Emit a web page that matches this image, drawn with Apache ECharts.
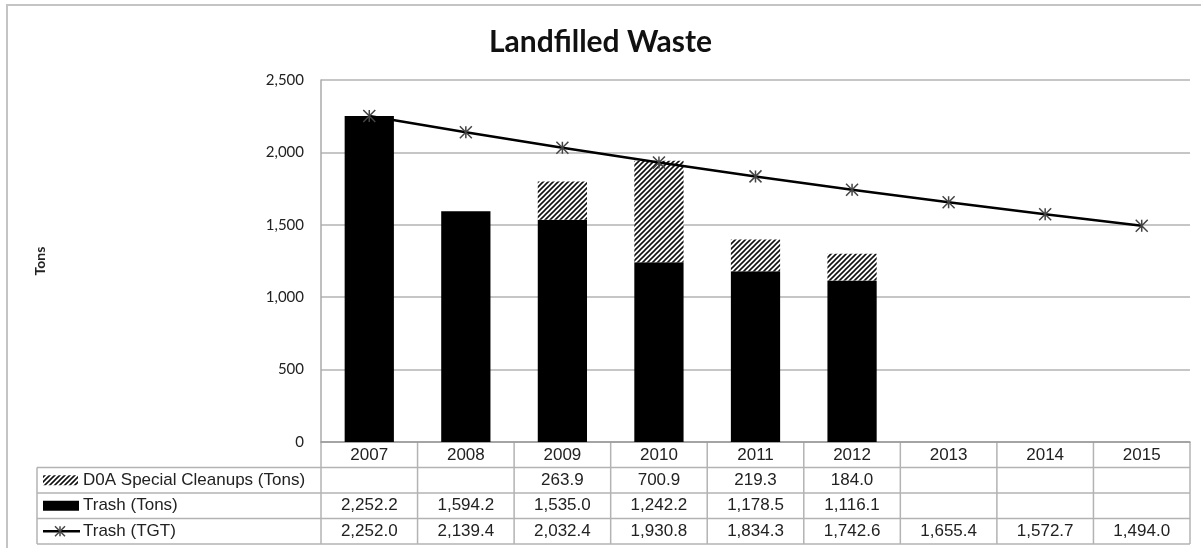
<!DOCTYPE html>
<html>
<head>
<meta charset="utf-8">
<script src="https://cdn.jsdelivr.net/npm/echarts@6/dist/echarts.min.js"></script>
<style>
  html, body { margin: 0; padding: 0; background: #fff; }
  #main { width: 1201px; height: 548px; }
</style>
</head>
<body>
<div id="main"></div>
<script>
// 年份
var years = ['2007', '2008', '2009', '2010', '2011', '2012', '2013', '2014', '2015'];
// D0A Special Cleanups (Tons)
var doaTons = [null, null, 263.9, 700.9, 219.3, 184.0, null, null, null];
// Trash (Tons)
var trashTons = [2252.2, 1594.2, 1535.0, 1242.2, 1178.5, 1116.1, null, null, null];
// Trash (TGT)
var trashTgt = [2252.0, 2139.4, 2032.4, 1930.8, 1834.3, 1742.6, 1655.4, 1572.7, 1494.0];
// y轴刻度
var yTicks = [0, 500, 1000, 1500, 2000, 2500];

(function () {
  var myChart = echarts.init(document.getElementById('main'));

  // 斜线填充 (D0A)
  function makeHatch() {
    var c = document.createElement('canvas');
    c.width = 5;
    c.height = 5;
    var ctx = c.getContext('2d');
    ctx.fillStyle = '#fff';
    ctx.fillRect(0, 0, 5, 5);
    ctx.strokeStyle = '#111';
    ctx.lineWidth = 1.6;
    ctx.beginPath();
    ctx.moveTo(0, 5); ctx.lineTo(5, 0);
    ctx.moveTo(-3, 3); ctx.lineTo(3, -3);
    ctx.moveTo(2, 8); ctx.lineTo(8, 2);
    ctx.stroke();
    return c;
  }
  var hatch = { image: makeHatch(), repeat: 'repeat' };

  function fmt(v) {
    if (v == null) return '';
    return v.toLocaleString('en-US', { minimumFractionDigits: 1, maximumFractionDigits: 1 });
  }

  var gridLeft = 321, gridRight = 11, gridTop = 80, gridBottom = 106;
  var lineGray = '#b3b3b3';
  var tableFont = 'Liberation Sans';
  var tableSize = 17;
  var starPath = 'path://M0,0L10,10M10,0L0,10M5,0L5,10';

  var option = {
    animation: false,
    title: {
      text: 'Landfilled Waste',
      left: 'center',
      top: 22,
      padding: [5, 5, 5, 19],
      textStyle: { fontFamily: 'Lato', fontWeight: 'bold', fontSize: 30, color: '#111' }
    },
    grid: { left: gridLeft, right: gridRight, top: gridTop, bottom: gridBottom },
    xAxis: {
      type: 'category',
      data: years,
      axisLine: { lineStyle: { color: '#999', width: 1.5 } },
      axisTick: { show: false },
      axisLabel: { margin: 5, fontFamily: tableFont, fontSize: tableSize, color: '#222' }
    },
    yAxis: {
      type: 'value',
      min: yTicks[0],
      max: yTicks[yTicks.length - 1],
      interval: 500,
      name: 'Tons',
      nameLocation: 'middle',
      nameGap: 274,
      nameTextStyle: { fontFamily: 'Lato', fontWeight: 'bold', fontSize: 14, color: '#222' },
      axisLine: { show: true, lineStyle: { color: '#aaa', width: 1.5 } },
      axisTick: { show: false },
      axisLabel: {
        margin: 17,
        fontFamily: 'Lato',
        fontSize: 15,
        color: '#222',
        formatter: function (v) { return v.toLocaleString('en-US'); }
      },
      splitLine: { lineStyle: { color: lineGray, width: 1.5 } }
    },
    series: [
      {
        name: 'Trash (Tons)',
        type: 'bar',
        stack: 'w',
        barWidth: '51%',
        itemStyle: { color: '#000' },
        data: trashTons
      },
      {
        name: 'D0A Special Cleanups (Tons)',
        type: 'bar',
        stack: 'w',
        itemStyle: { color: hatch },
        data: doaTons
      },
      {
        name: 'Trash (TGT)',
        type: 'line',
        data: trashTgt,
        symbol: starPath,
        symbolSize: 12,
        lineStyle: { color: '#000', width: 2.5 },
        itemStyle: { color: '#000', borderColor: '#444', borderWidth: 1.5 },
        z: 5
      }
    ]
  };

  myChart.setOption(option);

  // 数据表格 (图表下方)
  var n = years.length;
  var plotRight = 1201 - gridRight;
  var band = (plotRight - gridLeft) / n;
  var tableTop = 548 - gridBottom;
  var rowH = 25.5;
  var keyLeft = 37;
  var els = [];

  function gline(x1, y1, x2, y2, color, w) {
    return {
      type: 'line',
      shape: { x1: x1, y1: y1, x2: x2, y2: y2 },
      style: { stroke: color, lineWidth: w }
    };
  }

  // 外框
  els.push({
    type: 'rect', z: -10,
    shape: { x: 7, y: 5, width: 1300, height: 600 },
    style: { fill: 'none', stroke: '#c4c4c4', lineWidth: 2 }
  });

  // 横线
  for (var r = 1; r <= 4; r++) {
    var y = tableTop + r * rowH;
    els.push(gline(keyLeft, y, plotRight, y, lineGray, 1.5));
  }
  // 竖线
  for (var i = 0; i <= n; i++) {
    var x = gridLeft + i * band;
    els.push(gline(x, tableTop, x, tableTop + 4 * rowH, lineGray, 1.5));
  }
  els.push(gline(keyLeft, tableTop + rowH, keyLeft, tableTop + 4 * rowH, lineGray, 1.5));

  // 表格数值
  var rows = [doaTons, trashTons, trashTgt];
  var rowNames = ['D0A Special Cleanups (Tons)', 'Trash (Tons)', 'Trash (TGT)'];
  for (var k = 0; k < rows.length; k++) {
    var cy = tableTop + (k + 1.5) * rowH;
    for (var j = 0; j < n; j++) {
      var cx = myChart.convertToPixel({ xAxisIndex: 0 }, j);
      els.push({
        type: 'text',
        x: cx, y: cy,
        style: {
          text: fmt(rows[k][j]),
          align: 'center', verticalAlign: 'middle',
          fontFamily: tableFont, fontSize: tableSize, fill: '#222'
        }
      });
    }
    els.push({
      type: 'text',
      x: 83, y: cy,
      style: {
        text: rowNames[k],
        align: 'left', verticalAlign: 'middle',
        fontFamily: tableFont, fontSize: tableSize, fill: '#222'
      }
    });
  }

  // 图例标记
  var y1 = tableTop + 1.5 * rowH;
  els.push({
    type: 'rect',
    shape: { x: 43, y: y1 - 5, width: 35, height: 10 },
    style: { fill: hatch }
  });
  var y2 = tableTop + 2.5 * rowH;
  els.push({
    type: 'rect',
    shape: { x: 43, y: y2 - 5, width: 36, height: 10 },
    style: { fill: '#000' }
  });
  var y3 = tableTop + 3.5 * rowH;
  els.push(gline(43, y3, 80, y3, '#000', 2.5));
  // 星形标记
  els.push(gline(55, y3 - 5, 65, y3 + 5, '#444', 1.5));
  els.push(gline(65, y3 - 5, 55, y3 + 5, '#444', 1.5));
  els.push(gline(60, y3 - 5, 60, y3 + 5, '#444', 1.5));

  myChart.setOption({ graphic: els });

  window.addEventListener('resize', function () {
    myChart.resize();
  });
})();
</script>
</body>
</html>
